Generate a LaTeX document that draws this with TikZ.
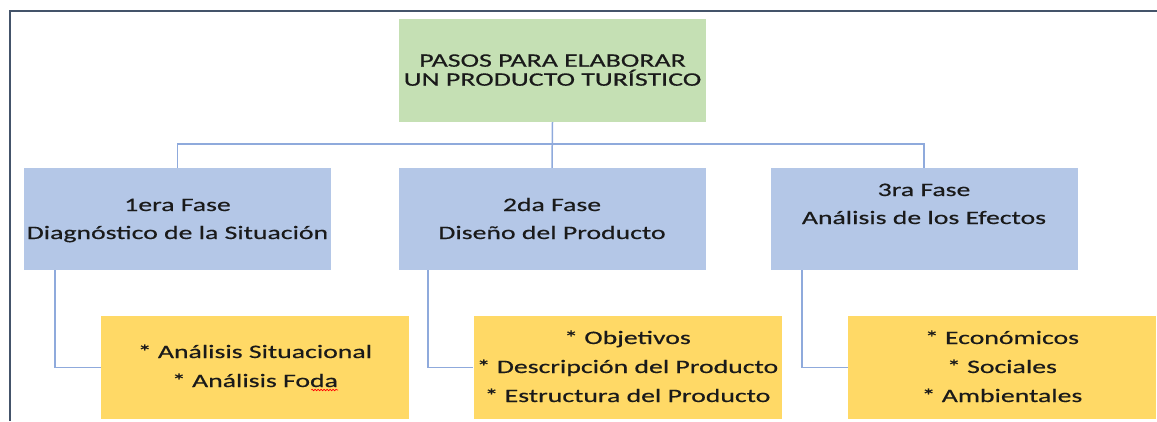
\documentclass[tikz,border=0pt]{standalone}
\usepackage{fontspec}
\setmainfont[FakeStretch=1.46, FakeBold=0.5]{Carlito}
\usetikzlibrary{decorations.pathmorphing}
\definecolor{titlegreen}{HTML}{C5E0B4}
\definecolor{phaseblue}{HTML}{B4C7E7}
\definecolor{itemyellow}{HTML}{FFD966}
\definecolor{linkblue}{HTML}{8FAADC}
\definecolor{framegray}{HTML}{44546A}
\definecolor{inktext}{HTML}{1A1A1A}
\tikzset{
  box/.style={rectangle, inner sep=0pt, minimum width=307pt, minimum height=103pt, draw=none},
  titlebox/.style={box, fill=titlegreen},
  phasebox/.style={box, fill=phaseblue, minimum height=102pt},
  itembox/.style={box, fill=itemyellow, minimum width=308pt},
  txt/.style={anchor=base, inner sep=0pt, font=\fontsize{19}{28}\selectfont, text=inktext},
  ttl/.style={txt, font=\fontsize{19.1}{19}\selectfont},
  link/.style={draw=linkblue, line width=1.5pt},
  frame/.style={draw=framegray, line width=2.2pt}
}
\begin{document}
\begin{tikzpicture}[x=1pt,y=-1pt]
\useasboundingbox (0,0) rectangle (1157,421);
% frame
\draw[frame] (10,421) -- (10,11) -- (1157,11);
% boxes
\node[titlebox] (title) at (552.5,70.5) {};
\node[phasebox] (b1) at (177.5,219) {};
\node[phasebox] (b2) at (552,219) {};
\node[phasebox] (b3) at (924,219) {};
\node[itembox] (y1) at (255,367.5) {};
\node[itembox] (y2) at (627.5,367.5) {};
\node[itembox] (y3) at (1002,367.5) {};
% texts
\node[ttl] (t1) at (552.5,66.7) {PASOS PARA ELABORAR};
\node[ttl] (t2) at (552.5,85.7) {UN PRODUCTO TURÍSTICO};
\node[txt] (b1a) at (177.5,211) {1era Fase};
\node[txt] (b1b) at (177.5,239) {Diagnóstico de la Situación};
\node[txt] (b2a) at (552,211) {2da Fase};
\node[txt] (b2b) at (552,239) {Diseño del Producto};
\node[txt] (b3a) at (924,196) {3ra Fase};
\node[txt] (b3b) at (924,224) {Análisis de los Efectos};
\node[txt] (y1a) at (255,358) {* Análisis Situacional};
\node[txt] (y1b) at (255,387) {* Análisis Foda};
\node[txt] (y2a) at (627.5,344) {* Objetivos};
\node[txt] (y2b) at (627.5,373) {* Descripción del Producto};
\node[txt] (y2c) at (627.5,402) {* Estructura del Producto};
\node[txt] (y3a) at (1002,344) {* Económicos};
\node[txt] (y3b) at (1002,373) {* Sociales};
\node[txt] (y3c) at (1002,402) {* Ambientales};
% spell-check squiggle under Foda
\draw[red, line width=0.6pt, decorate, decoration={snake, amplitude=0.8pt, segment length=3pt}] ([xshift=-27pt,yshift=-3pt]y1b.base east) -- ([yshift=-3pt]y1b.base east);
% connectors
\coordinate (bus) at (552,144);
\draw[link] (title.south) -- (b2.north);
\draw[link] (b1.north) -- (b1.north |- bus) -- (b3.north |- bus) -- (b3.north);
\coordinate (c1) at (55,270);
\coordinate (c2) at (428,270);
\coordinate (c3) at (802,270);
\draw[link] (c1) |- (y1.west);
\draw[link] (c2) |- (y2.west);
\draw[link] (c3) |- (y3.west);
\end{tikzpicture}
\end{document}
